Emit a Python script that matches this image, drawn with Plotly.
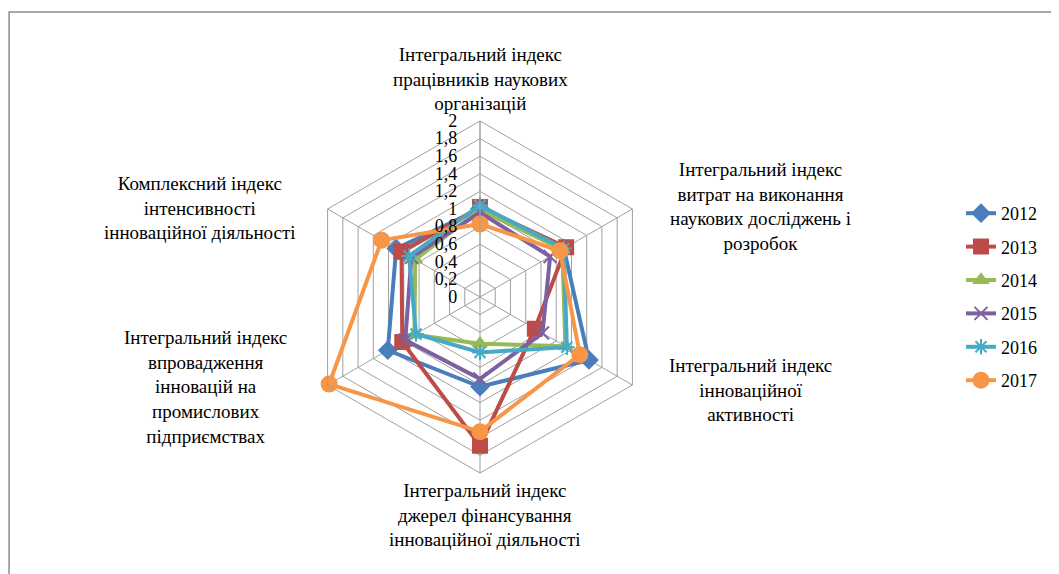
import plotly.graph_objects as go

# Axis categories (clockwise from the top)
categories = [
    "Інтегральний індекс<br>працівників наукових<br>організацій",
    "Інтегральний індекс<br>витрат на виконання<br>наукових досліджень і<br>розробок",
    "Інтегральний індекс<br>інноваційної<br>активності",
    "Інтегральний індекс<br>джерел фінансування<br>інноваційної діяльності",
    "Інтегральний індекс<br>впровадження<br>інновацій на<br>промислових<br>підприємствах",
    "Комплексний індекс<br>інтенсивності<br>інноваційної діяльності",
]

years = ["2012", "2013", "2014", "2015", "2016", "2017"]

v2012 = [1.00, 1.10, 1.43, 1.02, 1.21, 1.10]
v2013 = [1.02, 1.13, 0.72, 1.69, 1.02, 1.03]
v2014 = [0.99, 1.08, 1.12, 0.53, 0.86, 0.85]
v2015 = [0.96, 0.92, 0.82, 0.93, 0.98, 0.90]
v2016 = [1.04, 1.10, 1.14, 0.63, 0.84, 0.93]
v2017 = [0.83, 1.05, 1.31, 1.53, 1.98, 1.29]

radial_ticks = [0, 0.2, 0.4, 0.6, 0.8, 1, 1.2, 1.4, 1.6, 1.8, 2]
radial_labels = ["0", "0,2", "0,4", "0,6", "0,8", "1", "1,2", "1,4", "1,6", "1,8", "2"]

series = [v2012, v2013, v2014, v2015, v2016, v2017]
colors = ["#4A7EBB", "#BE4B48", "#98B954", "#7D60A0", "#46AAC5", "#F79646"]
symbols = ["diamond", "square", "triangle-up", "x-thin-open", "asterisk-open", "circle"]
sizes = [13, 14, 12, 13, 13, 15]

W, H = 1059, 574
OFF = 8  # the html page body adds an 8px margin
FONT = "Liberation Serif, DejaVu Serif, serif"


def px_x(x):
    return (x - OFF) / W


def px_y(y):
    return 1 - (y - OFF) / H


fig = go.Figure()
for i, (yr, vals) in enumerate(zip(years, series)):
    fig.add_trace(go.Scatterpolar(
        r=vals + vals[:1],
        theta=categories + categories[:1],
        mode="lines+markers",
        name=yr,
        legendgroup=yr,
        line=dict(color=colors[i], width=4),
        marker=dict(symbol=symbols[i], size=sizes[i], color=colors[i],
                    line=dict(color=colors[i], width=2)),
    ))

# centre of the radar in pixels, radius for value 2
cx, cy, rad = 480, 297, 176

fig.update_layout(
    width=W, height=H,
    margin=dict(l=0, r=0, t=0, b=0),
    paper_bgcolor="white",
    font=dict(family=FONT, size=18, color="black"),
    polar=dict(
        domain=dict(x=[px_x(cx - rad), px_x(cx + rad)],
                    y=[px_y(cy + rad), px_y(cy - rad)]),
        gridshape="linear",
        bgcolor="white",
        radialaxis=dict(
            range=[0, 2], tickvals=radial_ticks, ticktext=radial_labels,
            angle=90, side="counterclockwise", tickangle=90,
            showline=True, linecolor="#A0A0A0", linewidth=1,
            gridcolor="#A0A0A0", gridwidth=1,
            ticks="outside", ticklen=16, tickcolor="rgba(0,0,0,0)",
            tickfont=dict(family=FONT, size=18, color="black"),
        ),
        angularaxis=dict(
            type="category", rotation=90, direction="clockwise",
            showticklabels=False, ticks="",
            showline=True, linecolor="#A0A0A0", linewidth=1,
            gridcolor="#A0A0A0", gridwidth=1,
        ),
    ),
    legend=dict(
        x=px_x(961), y=px_y(195), xanchor="left", yanchor="top",
        font=dict(family=FONT, size=18, color="black"),
        tracegroupgap=7, bgcolor="rgba(0,0,0,0)",
    ),
    shapes=[dict(type="rect", xref="paper", yref="paper",
                 x0=0.001, x1=1.02, y0=-0.02, y1=px_y(12),
                 line=dict(color="#8C8C8C", width=1.5))],
)

# category labels placed around the radar like in the original
label_pos = [(480, 116, "bottom"), (760, 207, "middle"), (750, 390, "middle"),
             (485, 478, "top"), (205, 387, "middle"), (200, 208, "middle")]
for text, (lx, ly, ya) in zip(categories, label_pos):
    fig.add_annotation(text=text, x=px_x(lx), y=px_y(ly), xref="paper", yref="paper",
                       xanchor="center", yanchor=ya, align="center", showarrow=False,
                       font=dict(family=FONT, size=19, color="black"))

fig.write_html("out.html")
